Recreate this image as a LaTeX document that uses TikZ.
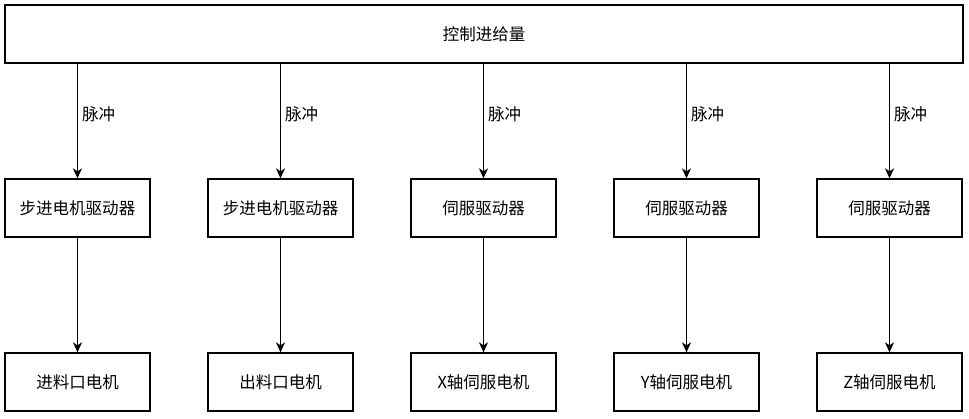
\documentclass[tikz,border=0pt]{standalone}
\usepackage{fontspec}
\setmainfont{Noto Sans CJK SC}
\usetikzlibrary{arrows.meta}

\begin{document}
\begin{tikzpicture}[x=1pt,y=-1pt]
	\tikzset{every node/.style={font=\fontsize{16.5}{19}\selectfont}}
	\tikzset{box/.style={draw,line width=1.3pt,minimum width=145pt,minimum height=58pt,inner sep=0pt}}
	\tikzset{link/.style={line width=1.3pt,-{Stealth[length=10pt,width=9pt,inset=3pt]}}}
	\useasboundingbox (0,0) rectangle (969,418);
	\node[box,minimum width=958pt] (ctrl) at (484,34) {控制进给量};
	% drivers
	\node[box] (drvA) at (77.5,208) {步进电机驱动器};
	\node[box] (drvB) at (280.5,208) {步进电机驱动器};
	\node[box] (drvX) at (483.5,208) {伺服驱动器};
	\node[box] (drvY) at (686.5,208) {伺服驱动器};
	\node[box] (drvZ) at (889.5,208) {伺服驱动器};
	% motors
	\node[box] (motA) at (77.5,382) {进料口电机};
	\node[box] (motB) at (280.5,382) {出料口电机};
	\node[box] (motX) at (483.5,382) {X轴伺服电机};
	\node[box] (motY) at (686.5,382) {Y轴伺服电机};
	\node[box] (motZ) at (889.5,382) {Z轴伺服电机};
	\foreach \n in {A,B,X,Y,Z} {
		\draw[link] (drv\n.north |- ctrl.south) -- node[pos=0.44,right,inner sep=4pt] {脉冲} (drv\n.north);
		\draw[link] (drv\n.south) -- (mot\n.north);
	}
\end{tikzpicture}
\end{document}
